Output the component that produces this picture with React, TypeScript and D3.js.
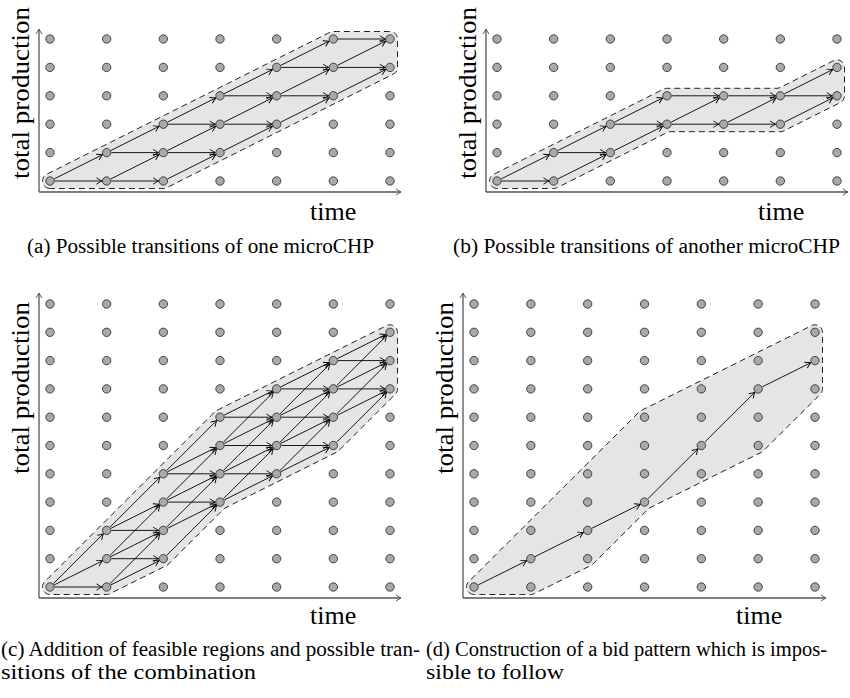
import React from 'react';
import * as d3 from 'd3';

// ---------------- data ----------------
const timeSteps = [0, 1, 2, 3, 4, 5, 6];
const levelsSingle = [0, 1, 2, 3, 4, 5];
const levelsCombined = [0, 1, 2, 3, 4, 5, 6, 7, 8, 9, 10];

// feasible production levels (lowest / highest) per time step
const regionAMin = [0, 0, 0, 1, 2, 3, 4];
const regionAMax = [0, 1, 2, 3, 4, 5, 5];
const regionBMin = [0, 0, 1, 2, 2, 2, 3];
const regionBMax = [0, 1, 2, 3, 3, 3, 4];
const regionCMin = [0, 0, 1, 3, 4, 5, 7];
const regionCMax = [0, 2, 4, 6, 7, 8, 9];

// bid pattern of panel (d)
const bidPattern = [0, 1, 2, 3, 5, 7, 8];

// allowed production increments per step
const stepsSingle = [0, 1];
const stepsCombined = [0, 1, 2];

const yAxisLabel = 'total production';
const xAxisLabel = 'time';
const captionA = ['(a) Possible transitions of one microCHP'];
const captionB = ['(b) Possible transitions of another microCHP'];
const captionC = ['(c) Addition of feasible regions and possible tran-', 'sitions of the combination'];
const captionD = ['(d) Construction of a bid pattern which is impos-', 'sible to follow'];

// ---------------- layout ----------------
type Pt = [number, number];
interface PanelCfg {
  key: string;
  levels: number[];
  xRange: [number, number];
  yRange: [number, number];
  axisOrigin: Pt;
  axisTop: number;
  axisRight: number;
  regionMin: number[];
  regionMax: number[];
  steps: number[] | null;
  path: number[] | null;
  yLabelPos: Pt;
  timePos: Pt;
  caption: string[];
  captionPos: Pt;
  captionWidths: number[];
}

const panels: PanelCfg[] = [
  {
    key: 'a', levels: levelsSingle, xRange: [50, 390], yRange: [181, 39],
    axisOrigin: [39, 192], axisTop: 29, axisRight: 401,
    regionMin: regionAMin, regionMax: regionAMax, steps: stepsSingle, path: null,
    yLabelPos: [29, 93], timePos: [310, 220],
    caption: captionA, captionPos: [27, 253], captionWidths: [347],
  },
  {
    key: 'b', levels: levelsSingle, xRange: [497, 837], yRange: [181, 39],
    axisOrigin: [486, 192], axisTop: 29, axisRight: 848,
    regionMin: regionBMin, regionMax: regionBMax, steps: stepsSingle, path: null,
    yLabelPos: [476, 93], timePos: [758, 220],
    caption: captionB, captionPos: [453, 253], captionWidths: [387],
  },
  {
    key: 'c', levels: levelsCombined, xRange: [50, 390], yRange: [587, 304],
    axisOrigin: [39, 598], axisTop: 293, axisRight: 401,
    regionMin: regionCMin, regionMax: regionCMax, steps: stepsCombined, path: null,
    yLabelPos: [29, 388], timePos: [310, 624],
    caption: captionC, captionPos: [1, 656], captionWidths: [419, 255],
  },
  {
    key: 'd', levels: levelsCombined, xRange: [474, 815], yRange: [587, 304],
    axisOrigin: [463, 598], axisTop: 293, axisRight: 826,
    regionMin: regionCMin, regionMax: regionCMax, steps: null, path: bidPattern,
    yLabelPos: [453, 388], timePos: [736, 624],
    caption: captionD, captionPos: [426, 656], captionWidths: [401, 138],
  },
];

const FONT = "'Liberation Serif', 'Times New Roman', serif";
const DOT_R = 4.2;

// ---------------- geometry helpers ----------------
function offsetPolygon(pts: Pt[], d: number): Pt[] {
  const n = pts.length;
  const out: Pt[] = [];
  for (let i = 0; i < n; i++) {
    const prev = pts[(i - 1 + n) % n];
    const cur = pts[i];
    const next = pts[(i + 1) % n];
    let e1: Pt = [cur[0] - prev[0], cur[1] - prev[1]];
    let e2: Pt = [next[0] - cur[0], next[1] - cur[1]];
    const l1 = Math.hypot(e1[0], e1[1]);
    const l2 = Math.hypot(e2[0], e2[1]);
    e1 = [e1[0] / l1, e1[1] / l1];
    e2 = [e2[0] / l2, e2[1] / l2];
    const n1: Pt = [e1[1], -e1[0]];
    const n2: Pt = [e2[1], -e2[0]];
    const cross = e1[0] * e2[1] - e1[1] * e2[0];
    const dp = e1[0] * e2[0] + e1[1] * e2[1];
    if (Math.abs(cross) < 1e-6 && dp > 0) {
      out.push([cur[0] + d * n1[0], cur[1] + d * n1[1]]);
    } else if (cross > 0) {
      const a1 = Math.atan2(n1[1], n1[0]);
      let a2 = Math.atan2(n2[1], n2[0]);
      while (a2 < a1) a2 += Math.PI * 2;
      const k = Math.max(2, Math.ceil((a2 - a1) / (Math.PI / 24)));
      for (let s = 0; s <= k; s++) {
        const a = a1 + ((a2 - a1) * s) / k;
        out.push([cur[0] + d * Math.cos(a), cur[1] + d * Math.sin(a)]);
      }
    } else {
      const nd = n1[0] * n2[0] + n1[1] * n2[1];
      const sc = d / (1 + nd);
      out.push([cur[0] + (n1[0] + n2[0]) * sc, cur[1] + (n1[1] + n2[1]) * sc]);
    }
  }
  return out;
}

function densify(pts: Pt[], step: number): Pt[] {
  const out: Pt[] = [];
  const n = pts.length;
  for (let i = 0; i < n; i++) {
    const a = pts[i];
    const b = pts[(i + 1) % n];
    const len = Math.hypot(b[0] - a[0], b[1] - a[1]);
    const k = Math.max(1, Math.floor(len / step));
    for (let s = 0; s < k; s++) {
      out.push([a[0] + ((b[0] - a[0]) * s) / k, a[1] + ((b[1] - a[1]) * s) / k]);
    }
  }
  return out;
}

function regionPath(cfg: PanelCfg, x: d3.ScaleLinear<number, number>, y: d3.ScaleLinear<number, number>): string {
  const upper: Pt[] = timeSteps.map((t) => [x(t), y(cfg.regionMax[t])]);
  const lower: Pt[] = timeSteps.slice().reverse().map((t) => [x(t), y(cfg.regionMin[t])]);
  const raw = upper.concat(lower);
  const pts: Pt[] = [];
  raw.forEach((p) => {
    const last = pts[pts.length - 1];
    if (!last || Math.hypot(last[0] - p[0], last[1] - p[1]) > 0.01) pts.push(p);
  });
  if (Math.hypot(pts[0][0] - pts[pts.length - 1][0], pts[0][1] - pts[pts.length - 1][1]) < 0.01) pts.pop();
  const off = densify(offsetPolygon(pts, 7.5), 3);
  return d3.line<Pt>().curve(d3.curveBasisClosed)(off) || '';
}

interface Arrow { from: Pt; to: Pt; }

function transitions(cfg: PanelCfg): Arrow[] {
  const res: Arrow[] = [];
  if (cfg.path) {
    for (let t = 0; t < cfg.path.length - 1; t++) {
      res.push({ from: [t, cfg.path[t]], to: [t + 1, cfg.path[t + 1]] });
    }
    return res;
  }
  const steps = cfg.steps || [];
  for (let t = 0; t < timeSteps.length - 1; t++) {
    for (let j = cfg.regionMin[t]; j <= cfg.regionMax[t]; j++) {
      steps.forEach((s) => {
        const jt = j + s;
        if (jt >= cfg.regionMin[t + 1] && jt <= cfg.regionMax[t + 1]) {
          res.push({ from: [t, j], to: [t + 1, jt] });
        }
      });
    }
  }
  return res;
}

function Panel({ cfg }: { cfg: PanelCfg }) {
  const x = d3.scaleLinear().domain([0, timeSteps.length - 1]).range(cfg.xRange);
  const y = d3.scaleLinear().domain([0, cfg.levels.length - 1]).range(cfg.yRange);
  const outline = regionPath(cfg, x, y);
  const arrows = transitions(cfg);
  const [ox, oy] = cfg.axisOrigin;

  return (
    <g>
      <path d={outline} fill="#e5e5e5" stroke="#000" strokeWidth={0.9} strokeDasharray="6 4" />
      {arrows.map((a, i) => {
        const x1 = x(a.from[0]);
        const y1 = y(a.from[1]);
        const x2 = x(a.to[0]);
        const y2 = y(a.to[1]);
        const len = Math.hypot(x2 - x1, y2 - y1);
        const ux = (x2 - x1) / len;
        const uy = (y2 - y1) / len;
        const g = DOT_R + 0.5;
        return (
          <line
            key={i}
            x1={x1 + ux * g}
            y1={y1 + uy * g}
            x2={x2 - ux * g}
            y2={y2 - uy * g}
            stroke="#000"
            strokeWidth={0.9}
            markerEnd="url(#tipBlack)"
          />
        );
      })}
      {timeSteps.map((t) =>
        cfg.levels.map((j) => (
          <circle key={`${t}-${j}`} cx={x(t)} cy={y(j)} r={DOT_R} fill="#a9a9a9" stroke="#222" strokeWidth={0.8} />
        ))
      )}
      <line x1={ox} y1={oy} x2={ox} y2={cfg.axisTop} stroke="#555" strokeWidth={1.3} markerEnd="url(#tipGray)" />
      <line x1={ox} y1={oy} x2={cfg.axisRight} y2={oy} stroke="#555" strokeWidth={1.3} markerEnd="url(#tipGray)" />
      <text
        transform={`translate(${cfg.yLabelPos[0]},${cfg.yLabelPos[1]}) rotate(-90)`}
        textAnchor="middle"
        fontFamily={FONT}
        fontSize={25}
        textLength={172}
        lengthAdjust="spacingAndGlyphs"
        fill="#000"
      >
        {yAxisLabel}
      </text>
      <text x={cfg.timePos[0]} y={cfg.timePos[1]} fontFamily={FONT} fontSize={26} fill="#000">
        {xAxisLabel}
      </text>
      {cfg.caption.map((line, i) => (
        <text
          key={i}
          x={cfg.captionPos[0]}
          y={cfg.captionPos[1] + i * 23}
          fontFamily={FONT}
          fontSize={20}
          textLength={cfg.captionWidths[i]}
          lengthAdjust="spacingAndGlyphs"
          fill="#000"
        >
          {line}
        </text>
      ))}
    </g>
  );
}

export default function App() {
  return (
    <svg
      width={850}
      height={698}
      viewBox="0 0 850 698"
      style={{ position: 'absolute', left: 0, top: 0, background: '#fff' }}
    >
      <defs>
        <marker id="tipBlack" viewBox="-7 -4 8 8" refX={0} refY={0} markerWidth={8} markerHeight={8} orient="auto" markerUnits="userSpaceOnUse" overflow="visible">
          <path d="M-5.5,-3.2 Q-1.8,-0.8 0,0 Q-1.8,0.8 -5.5,3.2" fill="none" stroke="#000" strokeWidth={0.9} />
        </marker>
        <marker id="tipGray" viewBox="-7 -4 8 8" refX={0} refY={0} markerWidth={8} markerHeight={8} orient="auto" markerUnits="userSpaceOnUse" overflow="visible">
          <path d="M-5,-3 Q-1.8,-0.8 0,0 Q-1.8,0.8 -5,3" fill="none" stroke="#555" strokeWidth={1} />
        </marker>
      </defs>
      <rect x={0} y={0} width={850} height={698} fill="#fff" />
      {panels.map((p) => (
        <Panel key={p.key} cfg={p} />
      ))}
    </svg>
  );
}
